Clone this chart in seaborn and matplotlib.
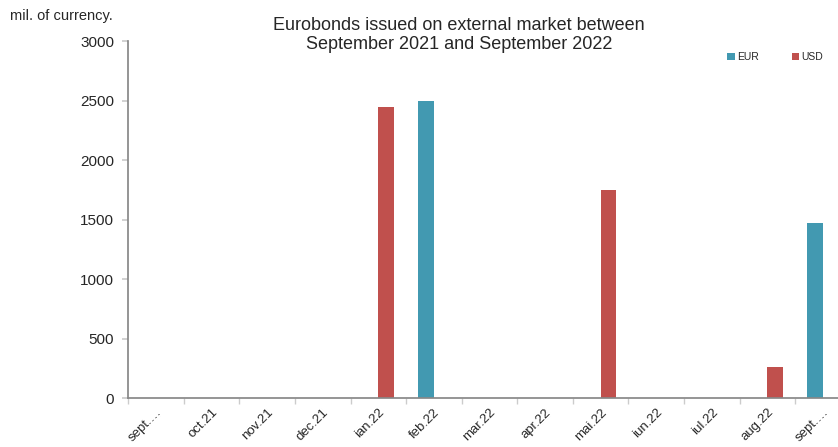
import pandas as pd
import matplotlib.pyplot as plt
import seaborn as sns

# Data
months = ['sept.21', 'oct.21', 'nov.21', 'dec.21', 'ian.22', 'feb.22', 'mar.22',
          'apr.22', 'mai.22', 'iun.22', 'iul.22', 'aug.22', 'sept.22']
tick_labels = ['sept.…', 'oct.21', 'nov.21', 'dec.21', 'ian.22', 'feb.22', 'mar.22',
               'apr.22', 'mai.22', 'iun.22', 'iul.22', 'aug.22', 'sept.…']
eur = [0, 0, 0, 0, 0, 2500, 0, 0, 0, 0, 0, 0, 1475]
usd = [0, 0, 0, 0, 2450, 0, 0, 0, 1750, 0, 0, 260, 0]

df = pd.DataFrame({'month': months * 2,
                   'currency': ['EUR'] * len(months) + ['USD'] * len(months),
                   'value': eur + usd})

sns.set_theme(style="white")
plt.rcParams['font.family'] = ['Liberation Sans', 'DejaVu Sans']

fig = plt.figure(figsize=(8.38, 4.47), dpi=100)
ax = fig.add_axes([0.153, 0.1096, 0.847, 0.7984])

sns.barplot(data=df, x='month', y='value', hue='currency', order=months,
            hue_order=['EUR', 'USD'], palette={'EUR': '#4299B1', 'USD': '#C0504D'},
            saturation=1, width=0.56, linewidth=0, ax=ax)

ax.set_xlim(-0.5, 12.27)
ax.set_ylim(0, 3000)
ax.set_yticks(range(0, 3001, 500))
ax.set_xticks(range(len(months)))
ax.set_xticklabels(tick_labels, rotation=45, ha='right', rotation_mode='anchor', fontsize=9.5)
ax.set_xticks([i - 0.5 for i in range(len(months))], minor=True)
ax.tick_params(axis='x', which='major', length=0, pad=6)
ax.tick_params(axis='x', which='minor', length=4, color='#cccccc', direction='out', bottom=True)
ax.tick_params(axis='y', length=4, color='#cccccc', direction='out', left=True, labelsize=11, pad=6)
for side in ['top', 'right']:
    ax.spines[side].set_visible(False)
ax.spines['left'].set_color('#888888')
ax.spines['bottom'].set_color('#888888')
ax.set_xlabel('')
ax.set_ylabel('')

fig.text(0.012, 0.965, 'mil. of currency.', fontsize=10.5, ha='left', va='center')
fig.text(0.548, 0.922, 'Eurobonds issued on external market between\nSeptember 2021 and September 2022',
         fontsize=13, ha='center', va='center', linespacing=1.15)

ax.get_legend().remove()
handles, labels = ax.get_legend_handles_labels()
fig.legend(handles, labels, loc='center', bbox_to_anchor=(0.925, 0.872), ncol=2, frameon=False,
           fontsize=7.5, handlelength=0.7, handleheight=0.7, handletextpad=0.2, columnspacing=3.2)

fig.savefig('out.png', dpi=100)
